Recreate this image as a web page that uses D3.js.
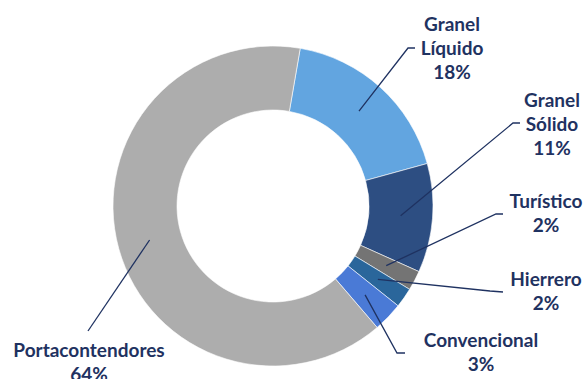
<!DOCTYPE html>
<html lang="es">
<head>
<meta charset="UTF-8">
<title>Donut</title>
<style>
  body { margin: 0; background: #fff; }
  .lbl { font-family: Lato, "Open Sans", sans-serif; font-weight: 700; font-size: 19px; fill: #1f3261; }
  .leader { fill: none; stroke: #1f3261; stroke-width: 1.3px; }
</style>
</head>
<body>
<div id="chart"></div>
<script src="https://d3js.org/d3.v7.min.js"></script>
<script>
  const categories = ['Granel Líquido', 'Granel Sólido', 'Turístico', 'Hierrero', 'Convencional', 'Portacontendores'];
  const values = [18, 11, 2, 2, 3, 64];
  const labelLines = [['Granel', 'Líquido', '18%'], ['Granel', 'Sólido', '11%'], ['Turístico', '2%'], ['Hierrero', '2%'], ['Convencional', '3%'], ['Portacontendores', '64%']];
  const colors = ['#62a5e0', '#2d4e82', '#747474', '#2a669b', '#4a7ad6', '#adadad'];

  // label placement: text centre x, first baseline y, leader elbow, leader end
  const layout = [
    {tx: 452, ty: 31, elbow: [408, 48], end: [415, 48]},
    {tx: 552, ty: 107, elbow: [513, 123], end: [520, 123]},
    {tx: 546, ty: 208, elbow: [496, 214], end: [503, 214]},
    {tx: 546, ty: 286, elbow: [490, 291], end: [503, 292]},
    {tx: 481, ty: 347, elbow: [397, 353], end: [405, 353]},
    {tx: 89, ty: 357, elbow: [88, 331], end: [88, 331]}
  ];

  const W = 583, H = 379;
  const cx = 273, cy = 206, rOuter = 160, rInner = 96;
  const startAngle = 9.8 * Math.PI / 180;

  const svg = d3.select('#chart').append('svg')
    .attr('width', W)
    .attr('height', H);

  const g = svg.append('g').attr('transform', `translate(${cx},${cy})`);

  const pie = d3.pie()
    .sort(null)
    .startAngle(startAngle)
    .endAngle(startAngle + 2 * Math.PI);

  const arc = d3.arc().innerRadius(rInner).outerRadius(rOuter);
  const arcs = pie(values);

  g.selectAll('path.slice')
    .data(arcs)
    .enter().append('path')
    .attr('class', 'slice')
    .attr('d', arc)
    .attr('fill', (d, i) => colors[i])
    .attr('stroke', '#fff')
    .attr('stroke-width', 0.6);

  // leader lines from slice centroid
  arcs.forEach((d, i) => {
    const c = arc.centroid(d);
    const L = layout[i];
    const pts = [[c[0] + cx, c[1] + cy], L.elbow, L.end];
    svg.append('path')
      .attr('class', 'leader')
      .attr('d', d3.line()(pts));
  });

  // labels
  labelLines.forEach((lines, i) => {
    const L = layout[i];
    const t = svg.append('text')
      .attr('class', 'lbl')
      .attr('text-anchor', 'middle');
    lines.forEach((s, j) => {
      t.append('tspan')
        .attr('x', L.tx)
        .attr('y', L.ty + j * 24)
        .text(s);
    });
  });
</script>
</body>
</html>
